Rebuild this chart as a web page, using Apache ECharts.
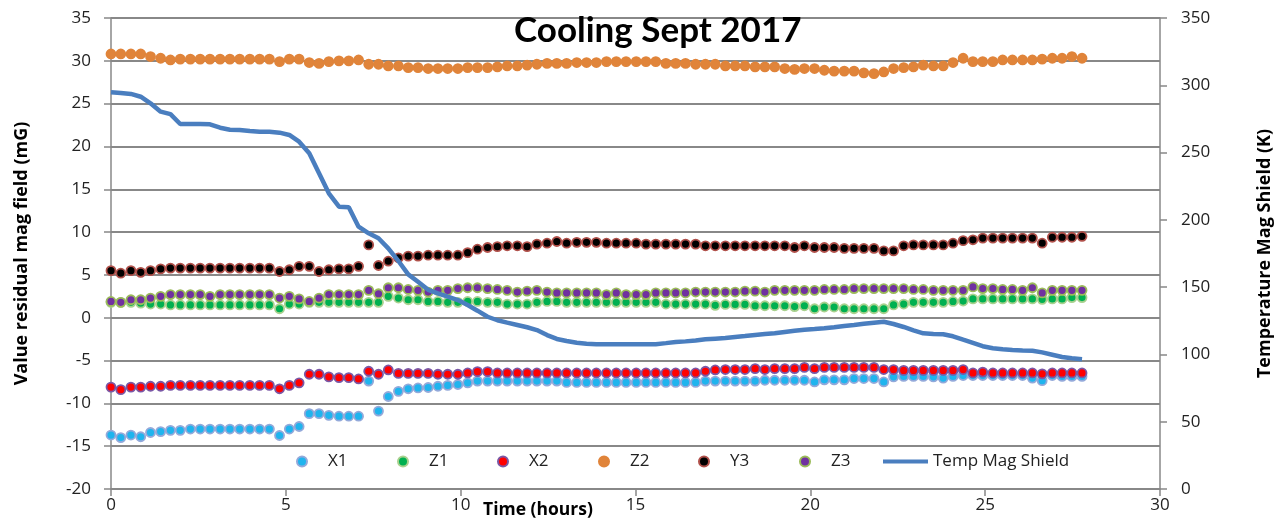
<!DOCTYPE html>
<html>
<head>
<meta charset="utf-8">
<script src="https://cdn.jsdelivr.net/npm/echarts@6/dist/echarts.min.js"></script>
<style>
  html, body { margin: 0; padding: 0; background: #fff; }
  #container { width: 1277px; height: 527px; }
</style>
</head>
<body>
<div id="container"></div>
<script>
// time of each reading, hours (one reading every 17 min)
var times = [0.00, 0.28, 0.57, 0.85, 1.13, 1.42, 1.70, 1.98, 2.27, 2.55, 2.83, 3.12, 3.40, 3.68, 3.97, 4.25, 4.53, 4.82, 5.10, 5.38,
  5.67, 5.95, 6.23, 6.52, 6.80, 7.08, 7.37, 7.65, 7.93, 8.22, 8.50, 8.78, 9.07, 9.35, 9.63, 9.92, 10.20, 10.48, 10.77, 11.05,
  11.33, 11.62, 11.90, 12.18, 12.47, 12.75, 13.03, 13.32, 13.60, 13.88, 14.17, 14.45, 14.73, 15.02, 15.30, 15.58, 15.87, 16.15, 16.43, 16.72,
  17.00, 17.28, 17.57, 17.85, 18.13, 18.42, 18.70, 18.98, 19.27, 19.55, 19.83, 20.12, 20.40, 20.68, 20.97, 21.25, 21.53, 21.82, 22.10, 22.38,
  22.67, 22.95, 23.23, 23.52, 23.80, 24.08, 24.37, 24.65, 24.93, 25.22, 25.50, 25.78, 26.07, 26.35, 26.63, 26.92, 27.20, 27.48, 27.77];

var x1 = [-13.7, -14.0, -13.7, -13.9, -13.4, -13.3, -13.15, -13.15, -13.0, -13.0, -13.0, -13.0, -13.0, -13.0, -13.0, -13.0, -13.0, -13.75, -13.0, -12.7,
  -11.2, -11.2, -11.4, -11.5, -11.5, -11.5, -7.4, -10.9, -9.2, -8.6, -8.3, -8.2, -8.15,
  -8.0, -7.9, -7.8, -7.6, -7.4, -7.4, -7.4, -7.4, -7.4, -7.4, -7.4, -7.4, -7.4, -7.55, -7.55, -7.55, -7.55, -7.55, -7.55, -7.55,
  -7.55, -7.55, -7.55, -7.55, -7.55, -7.55, -7.55, -7.4, -7.4, -7.4, -7.4, -7.4, -7.4,
  -7.3, -7.3, -7.3, -7.3, -7.3, -7.5, -7.25, -7.25, -7.25, -7.1, -7.1, -7.1, -7.5, -6.9, -6.85, -6.85, -6.85, -6.9, -7.05, -6.85,
  -6.75, -6.75, -6.75, -6.75, -6.75, -6.75, -6.75, -7.05, -7.35, -6.75, -6.85, -6.85, -6.85];

var z1 = [1.8, 1.8, 1.8, 1.7, 1.6, 1.6, 1.5, 1.5, 1.5, 1.5, 1.5, 1.5, 1.5, 1.5, 1.5, 1.5, 1.5, 1.05, 1.6, 1.6,
  1.8, 1.8, 1.8, 1.8, 1.8, 1.8, 1.8, 1.8, 2.5, 2.3, 2.1, 2.1, 1.9,
  1.9, 1.8, 1.8, 1.9, 1.9, 1.8, 1.8, 1.6, 1.6, 1.6, 1.8, 1.9, 1.9, 1.8, 1.8, 1.8, 1.8, 1.8, 1.8, 1.8,
  1.8, 1.8, 1.8, 1.6, 1.6, 1.6, 1.6, 1.6, 1.45, 1.55, 1.55, 1.55, 1.4,
  1.4, 1.4, 1.4, 1.3, 1.4, 1.05, 1.25, 1.25, 1.05, 1.05, 1.05, 1.05, 1.05, 1.5, 1.6, 1.8, 1.8, 1.8, 1.8, 1.9,
  1.95, 2.2, 2.2, 2.2, 2.2, 2.2, 2.2, 2.2, 2.15, 2.2, 2.2, 2.35, 2.35];

var x2 = [-8.1, -8.4, -8.1, -8.1, -8.0, -8.0, -7.9, -7.9, -7.9, -7.9, -7.9, -7.9, -7.9, -7.9, -7.9, -7.9, -7.9, -8.3, -7.9, -7.6,
  -6.6, -6.6, -6.9, -7.0, -7.0, -7.15, -6.25, -6.6, -6.1, -6.5, -6.5, -6.5, -6.5,
  -6.6, -6.6, -6.6, -6.45, -6.3, -6.3, -6.45, -6.45, -6.45, -6.45, -6.45, -6.45, -6.45, -6.45, -6.45, -6.45, -6.45, -6.45, -6.45, -6.45,
  -6.45, -6.45, -6.45, -6.45, -6.45, -6.45, -6.45, -6.25, -6.1, -6.05, -6.05, -6.05, -5.95,
  -6.05, -5.95, -5.95, -5.95, -5.8, -5.95, -5.8, -5.8, -5.8, -5.8, -5.8, -5.8, -6.05, -6.05, -6.15, -6.15, -6.15, -6.15, -6.15, -6.15,
  -6.05, -6.45, -6.35, -6.45, -6.45, -6.45, -6.45, -6.45, -6.55, -6.45, -6.45, -6.45, -6.45];

var z2 = [30.8, 30.8, 30.8, 30.8, 30.5, 30.3, 30.1, 30.2, 30.2, 30.2, 30.2, 30.2, 30.2, 30.2, 30.2, 30.2, 30.2, 29.9, 30.2, 30.2,
  29.8, 29.7, 29.9, 30.0, 30.0, 30.1, 29.6, 29.6, 29.4, 29.4, 29.2, 29.2, 29.1,
  29.1, 29.1, 29.1, 29.2, 29.2, 29.2, 29.3, 29.4, 29.4, 29.5, 29.6, 29.7, 29.7, 29.7, 29.8, 29.8, 29.8, 29.9, 29.9, 29.9,
  29.9, 29.9, 29.9, 29.7, 29.7, 29.7, 29.6, 29.6, 29.6, 29.4, 29.4, 29.4, 29.3,
  29.3, 29.3, 29.1, 29.0, 29.1, 29.1, 28.9, 28.8, 28.8, 28.8, 28.6, 28.5, 28.7, 29.1, 29.2, 29.3, 29.5, 29.4, 29.4, 29.8,
  30.3, 29.9, 29.9, 29.9, 30.1, 30.1, 30.1, 30.1, 30.2, 30.3, 30.3, 30.5, 30.3];

var y3 = [5.5, 5.2, 5.5, 5.3, 5.5, 5.7, 5.8, 5.8, 5.8, 5.8, 5.8, 5.8, 5.8, 5.8, 5.8, 5.8, 5.8, 5.4, 5.6, 6.0,
  6.0, 5.4, 5.6, 5.7, 5.7, 6.0, 8.5, 6.1, 6.6, 7.0, 7.2, 7.2, 7.3,
  7.3, 7.3, 7.3, 7.6, 8.0, 8.2, 8.3, 8.4, 8.4, 8.3, 8.6, 8.7, 8.9, 8.7, 8.8, 8.8, 8.8, 8.7, 8.7, 8.7,
  8.7, 8.6, 8.6, 8.6, 8.6, 8.6, 8.6, 8.4, 8.4, 8.4, 8.4, 8.4, 8.4,
  8.4, 8.4, 8.4, 8.2, 8.4, 8.2, 8.2, 8.2, 8.1, 8.1, 8.1, 8.1, 7.8, 7.8, 8.4, 8.5, 8.5, 8.5, 8.5, 8.7,
  9.0, 9.1, 9.3, 9.3, 9.3, 9.3, 9.3, 9.3, 8.7, 9.4, 9.4, 9.4, 9.5];

var z3 = [1.9, 1.8, 2.1, 2.1, 2.3, 2.5, 2.7, 2.7, 2.7, 2.7, 2.5, 2.7, 2.7, 2.7, 2.7, 2.7, 2.7, 2.3, 2.5, 2.2,
  1.9, 2.3, 2.7, 2.7, 2.7, 2.7, 3.2, 2.8, 3.5, 3.5, 3.3, 3.2, 3.0,
  3.2, 3.2, 3.4, 3.5, 3.5, 3.4, 3.3, 3.2, 3.0, 3.1, 3.2, 3.0, 2.9, 2.9, 2.9, 2.9, 2.9, 2.7, 2.9, 2.7,
  2.7, 2.7, 2.9, 2.9, 2.9, 2.9, 3.0, 3.0, 3.0, 3.0, 3.0, 3.1, 3.1,
  3.0, 3.2, 3.2, 3.2, 3.2, 3.2, 3.3, 3.3, 3.3, 3.4, 3.4, 3.4, 3.4, 3.4, 3.4, 3.3, 3.3, 3.2, 3.2, 3.2,
  3.2, 3.6, 3.4, 3.4, 3.3, 3.3, 3.2, 3.5, 2.9, 3.2, 3.2, 3.2, 3.2];

// temperature of the mag shield, K (right axis)
var temp = [294.8, 294.3, 293.6, 291.5, 286.6, 280.4, 278.6, 271.2, 271.2, 271.2, 271.0, 268.5, 267.0, 266.8, 266.0, 265.5, 265.5, 264.8, 263.1, 258.1,
  249.5, 234.6, 219.7, 209.8, 209.3, 194.9, 190.0, 186.3, 178.8, 169.4, 159.5, 154.0, 148.0,
  145.4, 142.9, 140.4, 136.7, 132.5, 128.0, 125.4, 123.6, 121.9, 120.2, 118.1, 114.4, 111.5, 110.0, 108.7, 108.0, 107.5, 107.5, 107.5, 107.5,
  107.5, 107.5, 107.6, 108.4, 109.2, 109.7, 110.4, 111.2, 111.7, 112.2, 113.0, 113.7, 114.5,
  115.2, 115.7, 116.7, 117.6, 118.4, 118.9, 119.4, 120.2, 121.1, 121.9, 122.8, 123.6, 124.3, 122.6, 120.4, 117.9, 115.7, 115.2, 115.0, 113.5,
  111.0, 108.6, 106.1, 104.6, 103.8, 103.3, 103.0, 102.8, 101.5, 99.8, 98.1, 97.1, 96.4];

var markerNames = ['X1', 'Z1', 'X2', 'Z2', 'Y3', 'Z3'];
var markerValues = [x1, z1, x2, z2, y3, z3];
var markerFill = ['#1FB4EE', '#00B050', '#FF0000', '#E0843A', '#000000', '#7030A0'];
var markerEdge = ['#93A9DA', '#A9D18E', '#7A58A6', '#E0843A', '#B0504A', '#9BBB59'];

var font = '"Open Sans", Lato, sans-serif';
var titleFont = 'Lato, "Open Sans", sans-serif';

function pairs(vals) {
  return times.map(function (t, i) { return [t, vals[i]]; });
}

var series = markerNames.map(function (name, k) {
  return {
    name: name,
    type: 'scatter',
    data: pairs(markerValues[k]),
    symbol: 'circle',
    symbolSize: 9,
    itemStyle: { color: markerFill[k], borderColor: markerEdge[k], borderWidth: 1.8, opacity: 1 },
    z: 2
  };
});
series.push({
  name: 'Temp Mag Shield',
  type: 'line',
  yAxisIndex: 1,
  data: pairs(temp),
  symbol: 'none',
  showSymbol: false,
  lineStyle: { color: '#4A7EBF', width: 4.5 },
  itemStyle: { color: '#4A7EBF' },
  z: 3
});

// one legend per entry so the slots are evenly spaced like the original
var legends = markerNames.map(function (name, k) {
  return {
    data: [name],
    left: 296 + Math.round(k * 100.6), top: 453, padding: 0,
    itemWidth: 42, itemHeight: 10,
    selectedMode: false,
    textStyle: { fontSize: 17, color: '#222', fontFamily: font }
  };
});
legends.push({
  data: [{ name: 'Temp Mag Shield', icon: 'rect' }],
  left: 883, top: 453, padding: 0,
  itemWidth: 45, itemHeight: 4,
  selectedMode: false,
  textStyle: { fontSize: 17, color: '#222', fontFamily: font }
});

var dom = document.getElementById('container');
var myChart = echarts.init(dom, null, { renderer: 'canvas' });

var gray = '#888888';
var option = {
  animation: false,
  backgroundColor: '#fff',
  textStyle: { fontFamily: font },
  title: [
    {
      text: 'Cooling Sept 2017',
      left: 514, top: 13, padding: 0,
      textStyle: { fontSize: 35, fontWeight: 'bold', color: '#000', fontFamily: titleFont }
    },
    {
      text: 'Time (hours)',
      left: 483, top: 501, padding: 0,
      textStyle: { fontSize: 17.5, fontWeight: 'bold', color: '#000', fontFamily: font }
    }
  ],
  legend: legends,
  grid: { left: 111, right: 117, top: 18, bottom: 38, containLabel: false, outerBoundsMode: 'none' },
  xAxis: {
    type: 'value',
    min: 0, max: 30, interval: 5,
    axisLine: { show: true, onZero: false, lineStyle: { color: gray, width: 1.5 } },
    axisTick: { show: true, inside: false, length: 7, lineStyle: { color: gray, width: 1.5 } },
    axisLabel: { fontSize: 17, color: '#222', margin: 8, fontFamily: font },
    splitLine: { show: false }
  },
  yAxis: [
    {
      type: 'value',
      min: -20, max: 35, interval: 5,
      name: 'Value residual mag field (mG)',
      nameLocation: 'middle', nameGap: 80,
      nameTextStyle: { fontSize: 18, fontWeight: 'bold', color: '#000', fontFamily: font },
      axisLine: { show: true, lineStyle: { color: gray, width: 1.5 } },
      axisTick: { show: true, inside: false, length: 7, lineStyle: { color: gray, width: 1.5 } },
      axisLabel: { fontSize: 17, color: '#222', margin: 20, fontFamily: font },
      splitLine: { show: true, lineStyle: { color: gray, width: 1.8 } }
    },
    {
      type: 'value',
      min: 0, max: 350, interval: 50,
      name: 'Temperature Mag Shield (K)',
      nameLocation: 'middle', nameGap: 96,
      nameTextStyle: { fontSize: 18, fontWeight: 'bold', color: '#000', fontFamily: font },
      axisLine: { show: true, lineStyle: { color: gray, width: 1.5 } },
      axisTick: { show: true, inside: false, length: 7, lineStyle: { color: gray, width: 1.5 } },
      axisLabel: { fontSize: 17, color: '#222', margin: 21, fontFamily: font },
      splitLine: { show: false }
    }
  ],
  series: series
};

myChart.setOption(option);

window.addEventListener('resize', function () {
  myChart.resize();
});
</script>
</body>
</html>
